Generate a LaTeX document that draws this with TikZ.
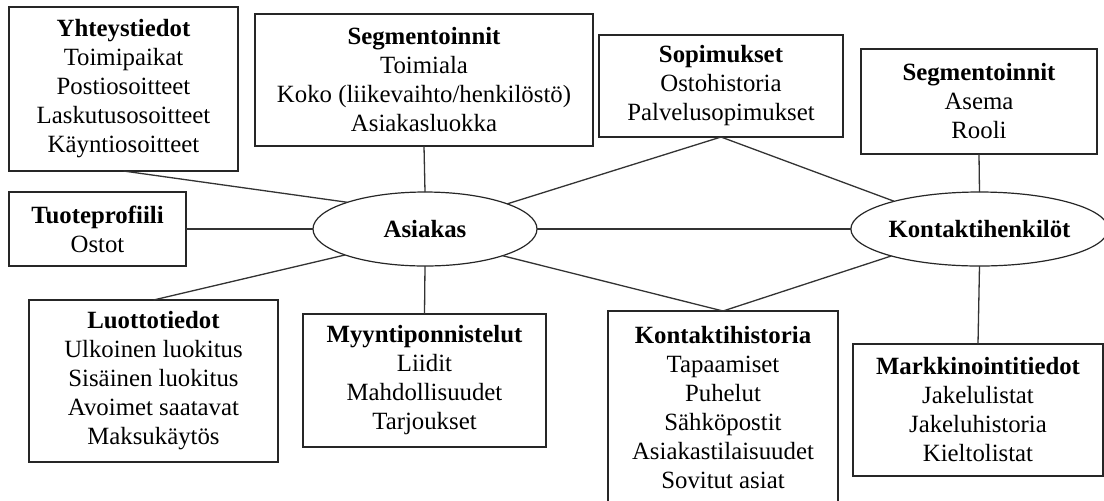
\documentclass[tikz,border=0pt]{standalone}
\usepackage{fontspec}
\setmainfont{Liberation Serif}
\usetikzlibrary{shapes.geometric}
\begin{document}
\begin{tikzpicture}[x=0.5pt,y=-0.5pt,
  every node/.style={font=\fontsize{12.4}{14.5}\selectfont, align=center, inner sep=0pt, outer sep=0pt},
  infobox/.style={draw=black!85, line width=0.6pt, rectangle, fill=white},
  entity/.style={draw=black!85, line width=0.6pt, ellipse, fill=white, font=\fontsize{12.4}{14.5}\selectfont\bfseries},
  link/.style={draw=black!80, line width=0.65pt}]
  % canvas
  \fill[white] (0,0) rectangle (1104,500);
  \useasboundingbox (0,0) rectangle (1104,500);
  \clip (0,0) rectangle (1104,500);

  % central entities
  \node[entity, minimum width=112pt, minimum height=37pt] (asiakas) at (425,229) {Asiakas};
  \node[entity, minimum width=121.5pt, minimum height=37pt] (khenk) at (979.5,229) {Kontaktihenkilöt};

  % attribute boxes
  \node[infobox, minimum width=114.5pt, minimum height=82pt] (yht) at (123.5,89)
    {\textbf{Yhteystiedot}\\Toimipaikat\\Postiosoitteet\\Laskutusosoitteet\\Käyntiosoitteet};
  \node[infobox, minimum width=169pt, minimum height=66pt] (seg1) at (424,80)
    {\textbf{Segmentoinnit}\\Toimiala\\Koko (liikevaihto/henkilöstö)\\Asiakasluokka};
  \node[infobox, minimum width=122pt, minimum height=51pt] (sop) at (721,86)
    {\textbf{Sopimukset}\\Ostohistoria\\Palvelusopimukset};
  \node[infobox, minimum width=118pt, minimum height=52.5pt] (seg2) at (979,101.5)
    {\textbf{Segmentoinnit}\\Asema\\Rooli};
  \node[infobox, minimum width=88.5pt, minimum height=37pt] (tuote) at (97.5,229)
    {\textbf{Tuoteprofiili}\\Ostot};
  \node[infobox, minimum width=124.5pt, minimum height=81pt] (luotto) at (153.5,381)
    {\textbf{Luottotiedot}\\Ulkoinen luokitus\\Sisäinen luokitus\\Avoimet saatavat\\Maksukäytös};
  \node[infobox, minimum width=121.5pt, minimum height=66.5pt] (myynti) at (424.5,380.5)
    {\textbf{Myyntiponnistelut}\\Liidit\\Mahdollisuudet\\Tarjoukset};
  \node[infobox, minimum width=115pt, minimum height=96.5pt] (khist) at (723,407.5)
    {\textbf{Kontaktihistoria}\\Tapaamiset\\Puhelut\\Sähköpostit\\Asiakastilaisuudet\\Sovitut asiat};
  \node[infobox, minimum width=125pt, minimum height=66pt] (markk) at (978,410)
    {\textbf{Markkinointitiedot}\\Jakelulistat\\Jakeluhistoria\\Kieltolistat};

  % connectors between boxes and entities
  \draw[link] (yht.south) -- (asiakas.161);
  \draw[link] (tuote.east) -- (asiakas.west);
  \draw[link] (seg1.south) -- (asiakas.north);
  \draw[link] (asiakas.17.6) -- (sop.south);
  \draw[link] (asiakas.east) -- (khenk.west);
  \draw[link] (asiakas.198.4) -- (luotto.north);
  \draw[link] (asiakas.south) -- (myynti.north);
  \draw[link] (asiakas.341.4) -- (khist.north);
  \draw[link] (sop.south) -- (khenk.162.7);
  \draw[link] (khenk.197.9) -- (khist.north);
  \draw[link] (seg2.south) -- (khenk.north);
  \draw[link] (khenk.south) -- (markk.north);
\end{tikzpicture}
\end{document}
